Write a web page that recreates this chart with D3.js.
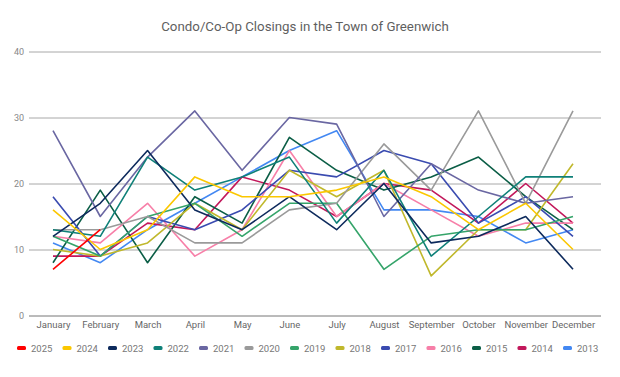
<!DOCTYPE html>
<html><head><meta charset="utf-8">
<script src="https://cdn.jsdelivr.net/npm/d3@7/dist/d3.min.js"></script>
<style>body{margin:0;background:#fff;}svg{display:block;font-family:Roboto,"Noto Sans",sans-serif;}</style>
</head><body><svg id="c" width="620" height="377"></svg>
<script>
const months = ["January","February","March","April","May","June","July","August","September","October","November","December"];
const yTicks = [0,10,20,30,40];
const years = ["2025","2024","2023","2022","2021","2020","2019","2018","2017","2016","2015","2014","2013"];
const colors = ["#ff0000","#fbc700","#0d2a5c","#0f8078","#6a67a2","#9a9a9a","#35a46a","#c0b82c","#3a4bb0","#f77fa8","#0b5e46","#c2185b","#4388f2"];
const s2025 = [7,13];
const s2024 = [16,10,13,21,18,18,19,21,18,13,17,10];
const s2023 = [12,17,25,16,13,18,13,20,11,12,15,7];
const s2022 = [13,12,24,19,21,24,14,22,9,15,21,21];
const s2021 = [28,15,24,31,22,30,29,15,23,19,17,18];
const s2020 = [13,13,15,11,11,16,17,26,19,31,17,31];
const s2019 = [12,9,15,17,12,17,17,7,12,13,13,15];
const s2018 = [10,9,11,17,13,22,18,22,6,13,13,23];
const s2017 = [18,9,15,13,16,22,21,25,23,14,18,12];
const s2016 = [12,11,17,9,13,25,15,20,16,12,14,14];
const s2015 = [8,19,8,18,14,27,22,19,21,24,18,13];
const s2014 = [9,9,14,13,21,19,15,20,19,14,20,14];
const s2013 = [11,8,13,17,21,25,28,16,16,15,11,13];
const seriesValues = [s2025,s2024,s2023,s2022,s2021,s2020,s2019,s2018,s2017,s2016,s2015,s2014,s2013];

const svg = d3.select("#c");
const x = d3.scalePoint().domain(months).range([53,573]);
const y = d3.scaleLinear().domain([0,40]).range([315.5,51.5]);

svg.append("text").attr("x",305).attr("y",31).attr("text-anchor","middle")
  .attr("font-size",13.3).attr("fill","#5f5f5f").text("Condo/Co-Op Closings in the Town of Greenwich");

const ga = svg.append("g").attr("transform","translate(29,0)")
  .call(d3.axisLeft(y).tickValues(yTicks).tickSize(-572).tickPadding(5));
ga.select(".domain").remove();
ga.selectAll(".tick line").attr("stroke",d=>d===0?"#777":"#a8a8a8").attr("stroke-width",1);
ga.selectAll(".tick text").attr("font-size",9).attr("fill","#888").attr("font-family","Roboto");

const gx = svg.append("g").attr("transform","translate(0,315)")
  .call(d3.axisBottom(x).tickSize(0).tickPadding(6));
gx.select(".domain").remove();
gx.selectAll(".tick text").attr("font-size",9.5).attr("fill","#666").attr("font-family","Roboto");

const line = d3.line().x((d,i)=>x(months[i])).y(d=>y(d));
for (let k = years.length-1; k>=0; k--) {
  svg.append("path").datum(seriesValues[k]).attr("d",line).attr("fill","none")
    .attr("stroke",colors[k]).attr("stroke-width",1.6).attr("stroke-linejoin","round");
}

const lg = svg.append("g");
years.forEach((yr,i)=>{
  const gx0 = 17 + i*45.5;
  lg.append("rect").attr("x",gx0).attr("y",346).attr("width",9).attr("height",4).attr("rx",1.5).attr("fill",colors[i]);
  lg.append("text").attr("x",gx0+14).attr("y",351.5).attr("font-size",9.5).attr("fill","#777").text(yr);
});
</script></body></html>
